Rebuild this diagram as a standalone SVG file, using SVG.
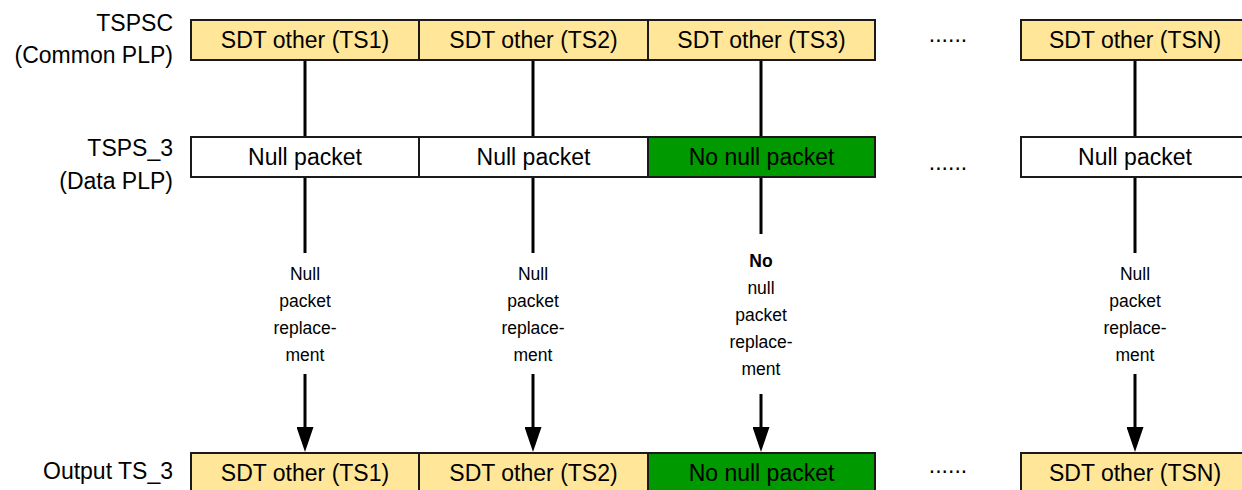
<svg xmlns="http://www.w3.org/2000/svg" width="1242" height="490" viewBox="0 0 1242 490">
<defs>
<style>
.box{stroke:#1a1a1a;stroke-width:2}
.y{fill:#FFE699}
.w{fill:#ffffff}
.g{fill:#009900}
.t{font-family:"Liberation Sans",Arial,sans-serif;font-size:23px;fill:#000;text-anchor:middle}
.lbl{font-family:"Liberation Sans",Arial,sans-serif;font-size:23px;fill:#000;text-anchor:end}
.s{font-family:"Liberation Sans",Arial,sans-serif;font-size:17.5px;fill:#000;text-anchor:middle}
.dots{font-family:"Liberation Sans",Arial,sans-serif;font-size:23px;fill:#000;text-anchor:middle}
.ln{stroke:#000;stroke-width:3;fill:none}
</style>
<marker id="ah" viewBox="0 0 25 17" refX="13" refY="8.5" markerWidth="25" markerHeight="17" markerUnits="userSpaceOnUse" orient="auto">
<path d="M0,0 L25,8.5 L0,17 Z" fill="#000"/>
</marker>
</defs>
<rect width="1242" height="490" fill="#fff"/>

<g id="row-labels">
<text class="lbl" x="173" y="31">TSPSC</text>
<text class="lbl" x="173" y="63">(Common PLP)</text>
<text class="lbl" x="173" y="156">TSPS_3</text>
<text class="lbl" x="173" y="189">(Data PLP)</text>
<text class="lbl" x="173" y="479">Output TS_3</text>
</g>

<g id="connectors">
<line class="ln" x1="305" y1="60" x2="305" y2="137"/>
<line class="ln" x1="533" y1="60" x2="533" y2="137"/>
<line class="ln" x1="761" y1="60" x2="761" y2="137"/>
<line class="ln" x1="1135" y1="60" x2="1135" y2="137"/>
<line class="ln" x1="305" y1="177" x2="305" y2="253"/>
<line class="ln" x1="533" y1="177" x2="533" y2="253"/>
<line class="ln" x1="761" y1="177" x2="761" y2="234"/>
<line class="ln" x1="1135" y1="177" x2="1135" y2="253"/>
<line class="ln" x1="305" y1="374" x2="305" y2="440" marker-end="url(#ah)"/>
<line class="ln" x1="533" y1="374" x2="533" y2="440" marker-end="url(#ah)"/>
<line class="ln" x1="761" y1="394" x2="761" y2="440" marker-end="url(#ah)"/>
<line class="ln" x1="1135" y1="374" x2="1135" y2="440" marker-end="url(#ah)"/>
</g>

<g id="conn-labels">
<text class="s" x="305" y="280">Null</text>
<text class="s" x="305" y="307">packet</text>
<text class="s" x="305" y="334">replace-</text>
<text class="s" x="305" y="361">ment</text>
<text class="s" x="533" y="280">Null</text>
<text class="s" x="533" y="307">packet</text>
<text class="s" x="533" y="334">replace-</text>
<text class="s" x="533" y="361">ment</text>
<text class="s" x="761" y="267" font-weight="bold">No</text>
<text class="s" x="761" y="294">null</text>
<text class="s" x="761" y="321">packet</text>
<text class="s" x="761" y="348">replace-</text>
<text class="s" x="761" y="375">ment</text>
<text class="s" x="1135" y="280">Null</text>
<text class="s" x="1135" y="307">packet</text>
<text class="s" x="1135" y="334">replace-</text>
<text class="s" x="1135" y="361">ment</text>
</g>

<g id="tspsc-ts1"><rect class="box y" x="191" y="20" width="228" height="40"/><text class="t" x="305" y="48">SDT other (TS1)</text></g>
<g id="tspsc-ts2"><rect class="box y" x="419" y="20" width="229" height="40"/><text class="t" x="533.5" y="48">SDT other (TS2)</text></g>
<g id="tspsc-ts3"><rect class="box y" x="648" y="20" width="227" height="40"/><text class="t" x="761.5" y="48">SDT other (TS3)</text></g>
<g id="tspsc-tsn"><rect class="box y" x="1021" y="20" width="230" height="40"/><text class="t" x="1135" y="48">SDT other (TSN)</text></g>

<g id="tsps3-1"><rect class="box w" x="191" y="137" width="228" height="40"/><text class="t" x="305" y="165">Null packet</text></g>
<g id="tsps3-2"><rect class="box w" x="419" y="137" width="229" height="40"/><text class="t" x="533.5" y="165">Null packet</text></g>
<g id="tsps3-3"><rect class="box g" x="648" y="137" width="227" height="40"/><text class="t" x="761.5" y="165">No null packet</text></g>
<g id="tsps3-n"><rect class="box w" x="1021" y="137" width="230" height="40"/><text class="t" x="1135" y="165">Null packet</text></g>

<g id="out-1"><rect class="box y" x="191" y="453" width="228" height="45"/><text class="t" x="305" y="481">SDT other (TS1)</text></g>
<g id="out-2"><rect class="box y" x="419" y="453" width="229" height="45"/><text class="t" x="533.5" y="481">SDT other (TS2)</text></g>
<g id="out-3"><rect class="box g" x="648" y="453" width="227" height="45"/><text class="t" x="761.5" y="481">No null packet</text></g>
<g id="out-n"><rect class="box y" x="1021" y="453" width="230" height="45"/><text class="t" x="1135" y="481">SDT other (TSN)</text></g>

<g id="ellipses">
<text class="dots" x="948" y="42">......</text>
<text class="dots" x="948" y="170">......</text>
<text class="dots" x="948" y="473">......</text>
</g>
</svg>
